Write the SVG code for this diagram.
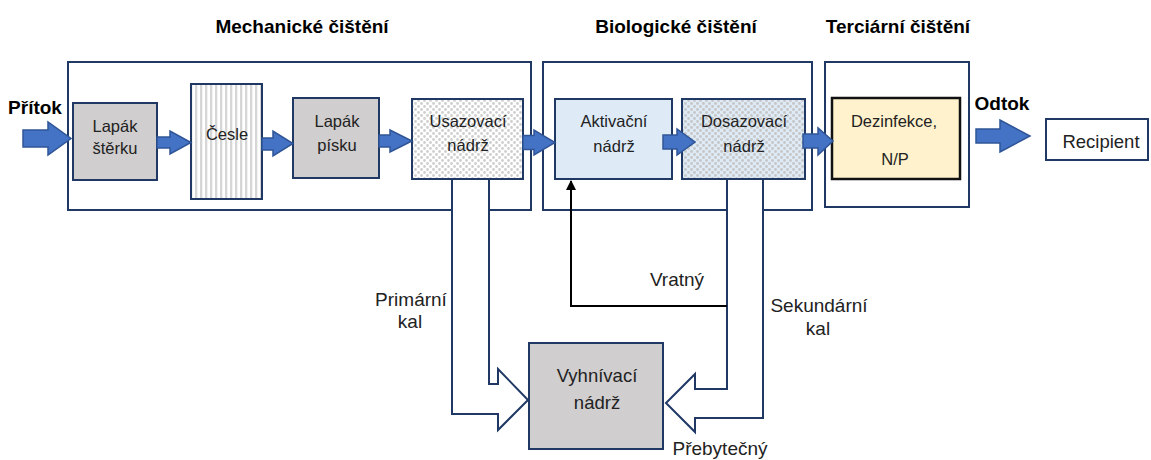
<svg xmlns="http://www.w3.org/2000/svg" width="1151" height="460" viewBox="0 0 1151 460">
<style>
.grp{fill:none;stroke:#1F3864;stroke-width:2}
.node{stroke:#1F3864;stroke-width:2}
.t{font-family:"Liberation Sans",Arial,sans-serif;font-size:16.5px;fill:#222;text-anchor:middle}
.lb{font-family:"Liberation Sans",Arial,sans-serif;font-size:19px;fill:#222;text-anchor:middle}
.big{font-size:18.5px}
.ttl{font-family:"Liberation Sans",Arial,sans-serif;font-size:19px;font-weight:bold;fill:#000;text-anchor:middle}
.blk{fill:#4472C4;stroke:#2F5597;stroke-width:1.5}
.hol{fill:#fff;stroke:#1F3864;stroke-width:2;stroke-linejoin:miter}
</style>
<defs>
<pattern id="stripes" width="5" height="10" patternUnits="userSpaceOnUse">
<rect width="5" height="10" fill="#fff"/>
<rect x="0" width="2.3" height="10" fill="#D6D6D6"/>
</pattern>
<pattern id="dotsW" width="6" height="6" patternUnits="userSpaceOnUse">
<rect width="6" height="6" fill="#fff"/>
<circle cx="1.5" cy="1.5" r="1.4" fill="#CFCFCF"/>
<circle cx="4.5" cy="4.5" r="1.4" fill="#CFCFCF"/>
</pattern>
<pattern id="dotsB" width="6" height="6" patternUnits="userSpaceOnUse">
<rect width="6" height="6" fill="#DEEAF6"/>
<circle cx="1.5" cy="1.5" r="1.4" fill="#C6C6C6"/>
<circle cx="4.5" cy="4.5" r="1.4" fill="#C6C6C6"/>
</pattern>
<marker id="ah" markerWidth="10" markerHeight="10" refX="9" refY="5" orient="auto" markerUnits="userSpaceOnUse">
<path d="M0,0 L10,5 L0,10 Z" fill="#000"/>
</marker>
</defs>

<g id="groups">
<rect class="grp" x="68" y="62" width="463" height="148"/>
<rect class="grp" x="543" y="62" width="269" height="148"/>
<rect class="grp" x="825" y="62" width="144" height="145"/>
<text class="ttl" x="302" y="33">Mechanické čištění</text>
<text class="ttl" x="676" y="33">Biologické čištění</text>
<text class="ttl" x="898" y="33">Terciární čištění</text>
</g>

<g id="sludge-connectors">
<path class="hol" d="M452,179 L452,414 L498,414 L498,430 L528,400 L498,369 L498,384 L489,384 L489,179 Z"/>
<path class="hol" d="M727,179 L727,389 L695,389 L695,374 L666,403 L695,432 L695,418 L763,418 L763,179 Z"/>
<path d="M727,306 L571,306 L571,181" fill="none" stroke="#000" stroke-width="2" marker-end="url(#ah)"/>
<text class="lb" x="411" y="306">Primární</text>
<text class="lb" x="410" y="328">kal</text>
<text class="lb" x="677" y="286">Vratný</text>
<text class="lb" x="819" y="312">Sekundární</text>
<text class="lb" x="818" y="335">kal</text>
<text class="lb" x="720" y="455">Přebytečný</text>
</g>

<g id="lapak-sterku">
<rect class="node" x="73" y="103" width="84" height="77" fill="#D0CECE"/>
<text class="t" x="115" y="132">Lapák</text>
<text class="t" x="115" y="154">štěrku</text>
</g>
<g id="cesle">
<rect class="node" x="191" y="84" width="71" height="115" fill="url(#stripes)"/>
<text class="t" x="227" y="140">Česle</text>
</g>
<g id="lapak-pisku">
<rect class="node" x="293" y="98" width="86" height="80" fill="#D0CECE"/>
<text class="t" x="337" y="127">Lapák</text>
<text class="t" x="337" y="151">písku</text>
</g>
<g id="usazovaci">
<rect class="node" x="412" y="99" width="111" height="80" fill="url(#dotsW)"/>
<text class="t" x="468" y="127">Usazovací</text>
<text class="t" x="468" y="151">nádrž</text>
</g>
<g id="aktivacni">
<rect class="node" x="555" y="99" width="117" height="80" fill="#DEEBF7"/>
<text class="t" x="614" y="127">Aktivační</text>
<text class="t" x="614" y="152">nádrž</text>
</g>
<g id="dosazovaci">
<rect class="node" x="682" y="99" width="123" height="80" fill="url(#dotsB)"/>
<text class="t" x="744" y="127">Dosazovací</text>
<text class="t" x="744" y="152">nádrž</text>
</g>
<g id="dezinfekce">
<rect x="832" y="98" width="128" height="81" fill="#FFF2CC" stroke="#111" stroke-width="2.5"/>
<text class="t" x="894" y="127">Dezinfekce,</text>
<text class="t" x="895" y="165">N/P</text>
</g>
<g id="recipient">
<rect class="node" x="1046" y="119" width="102" height="41" fill="#fff"/>
<text class="t big" x="1101" y="148">Recipient</text>
</g>
<g id="vyhnivaci">
<rect class="node" x="529" y="343" width="134" height="106" fill="#D0CECE"/>
<text class="t big" x="597" y="382">Vyhnívací</text>
<text class="t big" x="597" y="409">nádrž</text>
</g>

<g id="flow-connectors">
<path class="blk" d="M23,130 L48,130 L48,122 L71,138.5 L48,155 L48,147 L23,147 Z"/>
<path class="blk" d="M157,137 L170,137 L170,131 L191,142.5 L170,154 L170,148 L157,148 Z"/>
<path class="blk" d="M262,138 L273,138 L273,131 L293,143.5 L273,156 L273,150 L262,150 Z"/>
<path class="blk" d="M379,135 L390,135 L390,130 L412,141 L390,152 L390,147 L379,147 Z"/>
<path class="blk" d="M523,135.5 L534,135.5 L534,130 L555,142.5 L534,155 L534,149.5 L523,149.5 Z"/>
<path class="blk" d="M663,135 L677,135 L677,129 L695,142 L677,155 L677,149 L663,149 Z"/>
<path class="blk" d="M803,134 L818,134 L818,128 L833,141 L818,155 L818,148 L803,148 Z"/>
<path class="blk" d="M976,129 L1000,129 L1000,120 L1030,136 L1000,152 L1000,143 L976,143 Z"/>
<text class="ttl" x="35" y="114">Přítok</text>
<text class="ttl" x="1002" y="110">Odtok</text>
</g>
</svg>
